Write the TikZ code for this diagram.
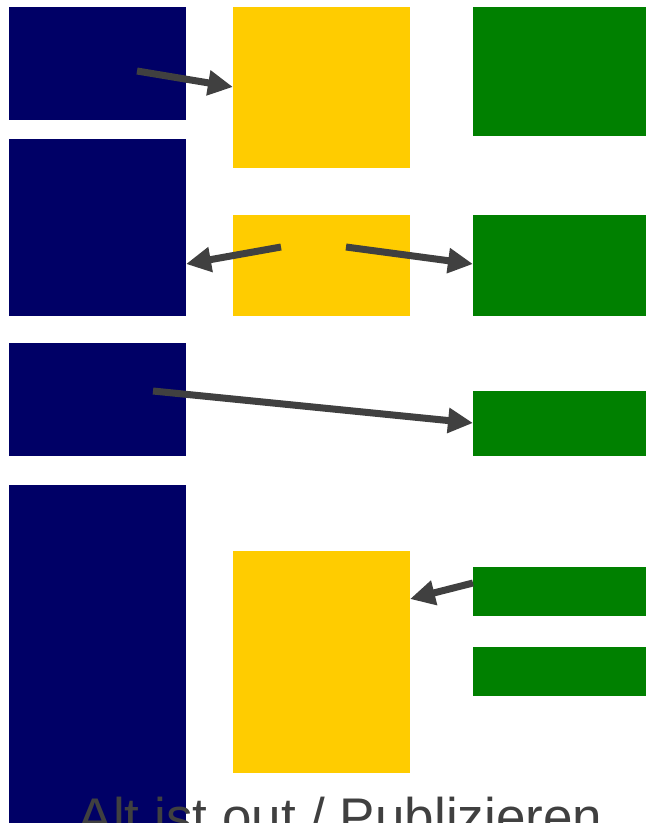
\documentclass[tikz,border=0pt]{standalone}
\usepackage{fontspec}
\setmainfont{Liberation Sans}
\usetikzlibrary{arrows.meta}
\definecolor{navyc}{HTML}{000066}
\definecolor{yellowc}{HTML}{FFCC00}
\definecolor{greenc}{HTML}{008000}
\definecolor{arrowc}{HTML}{404040}
\tikzset{
  blk/.style={draw=none, inner sep=0pt, outer sep=0pt, anchor=north west},
  nav/.style={blk, fill=navyc, minimum width=177pt},
  yel/.style={blk, fill=yellowc, minimum width=177pt},
  grn/.style={blk, fill=greenc, minimum width=173pt},
  conn/.style={draw=arrowc, line width=7pt, -{Triangle[length=25pt,width=24pt]}, shorten >=0pt},
  caption/.style={text=arrowc, font=\fontsize{53pt}{60pt}\selectfont, anchor=base, inner sep=0pt}
}
\begin{document}
\begin{tikzpicture}[x=1pt,y=-1pt]
\useasboundingbox (0,0) rectangle (646,823);
\clip (0,0) rectangle (646,823);
\fill[white] (0,0) rectangle (646,823);
% navy column
\node[nav, minimum height=113pt] (N1) at (9,7) {};
\node[nav, minimum height=177pt] (N2) at (9,139) {};
\node[nav, minimum height=113pt] (N3) at (9,343) {};
\node[nav, minimum height=350pt] (N4) at (9,485) {};
% yellow column
\node[yel, minimum height=161pt] (Y1) at (233,7) {};
\node[yel, minimum height=101pt] (Y2) at (233,215) {};
\node[yel, minimum height=222pt] (Y3) at (233,551) {};
% green column
\node[grn, minimum height=129pt] (G1) at (473,7) {};
\node[grn, minimum height=101pt] (G2) at (473,215) {};
\node[grn, minimum height=65pt] (G3) at (473,391) {};
\node[grn, minimum height=49pt] (G4) at (473,567) {};
\node[grn, minimum height=49pt] (G5) at (473,647) {};
% connector end points
\coordinate (s1) at (137,71);
\coordinate (t1) at (233,87);
\coordinate (s2) at (281,247);
\coordinate (t2) at (186,264);
\coordinate (s3) at (346,247);
\coordinate (t3) at (473,264);
\coordinate (s4) at (153,391);
\coordinate (t4) at (473,423);
\coordinate (s5) at (473,583);
\coordinate (t5) at (410,599);
\draw[conn] (s1) -- (Y1.west |- t1);
\draw[conn] (s2) -- (N2.east |- t2);
\draw[conn] (s3) -- (G2.west |- t3);
\draw[conn] (s4) -- (G3.west |- t4);
\draw[conn] (G4.west |- s5) -- (Y3.east |- t5);
% caption
\node[caption] (cap) at (340,835) {Alt ist out / Publizieren};
\end{tikzpicture}
\end{document}
